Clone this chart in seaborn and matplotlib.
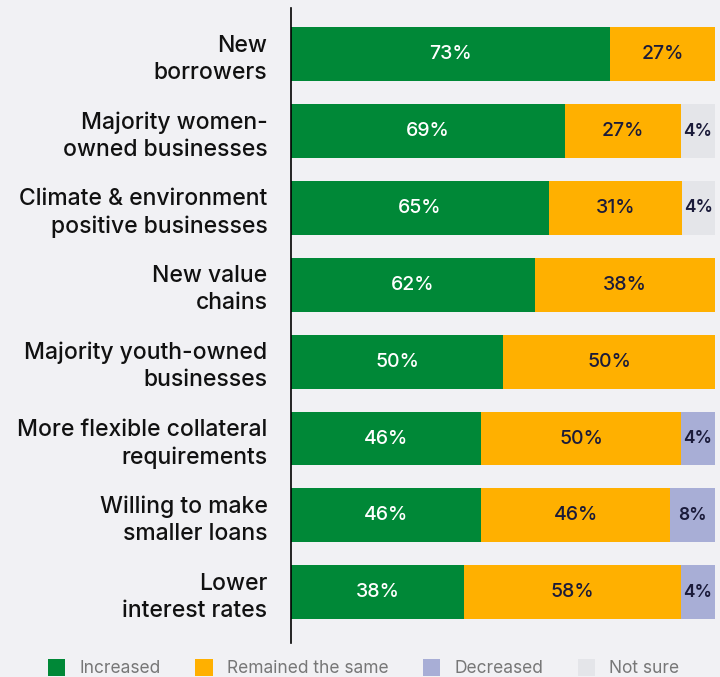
import matplotlib
matplotlib.use("Agg")
import matplotlib.pyplot as plt
from matplotlib.patches import Patch
import seaborn as sns
import pandas as pd

# Categories (top to bottom)
categories = ["New\nborrowers", "Majority women-\nowned businesses",
              "Climate & environment\npositive businesses", "New value\nchains",
              "Majority youth-owned\nbusinesses", "More flexible collateral\nrequirements",
              "Willing to make\nsmaller loans", "Lower\ninterest rates"]

# Bar shares as drawn in the picture (percent of bar length)
increased = [75.2, 64.6, 60.8, 57.5, 50.0, 44.8, 44.8, 40.8]
remained = [24.8, 27.4, 31.4, 42.5, 50.0, 47.2, 44.6, 51.2]
decreased = [0, 0, 0, 0, 0, 8.0, 10.6, 8.0]
not_sure = [0, 8.0, 7.8, 0, 0, 0, 0, 0]

# Printed percentage labels
increased_lbl = [73, 69, 65, 62, 50, 46, 46, 38]
remained_lbl = [27, 27, 31, 38, 50, 50, 46, 58]
decreased_lbl = [0, 0, 0, 0, 0, 4, 8, 4]
not_sure_lbl = [0, 4, 4, 0, 0, 0, 0, 0]

series = ["Increased", "Remained the same", "Decreased", "Not sure"]
colors = ["#008837", "#FFB000", "#A8AED6", "#E4E5E9"]
bg = "#F1F1F4"

df = pd.DataFrame({"cat": categories, "Increased": increased,
                   "Remained the same": remained, "Decreased": decreased,
                   "Not sure": not_sure})
cum = df[series].cumsum(axis=1)

sns.set_style("white")
plt.rcParams["font.family"] = ["Inter", "DejaVu Sans"]

fig = plt.figure(figsize=(7.2, 6.77), dpi=100, facecolor=bg)
ax = fig.add_axes([291 / 720, 1 - 643 / 677, 424 / 720, 635 / 677])
ax.set_facecolor(bg)

# draw cumulative totals from the back to the front
for s, c in reversed(list(zip(series, colors))):
    sns.barplot(x=cum[s], y=df["cat"], orient="h", color=c, saturation=1,
                width=0.7, linewidth=0, ax=ax)

labels = [increased_lbl, remained_lbl, decreased_lbl, not_sure_lbl]
for j, s in enumerate(series):
    for i in range(len(categories)):
        v = df[s][i]
        if v <= 0:
            continue
        x = cum[s][i] - v / 2
        col = "white" if j == 0 else "#1B1B3A"
        ax.text(x, i, f"{labels[j][i]}%", ha="center", va="center",
                color=col, fontsize=14 if j < 2 else 12.5,
                fontweight="medium" if j < 2 else "semibold")

ax.set_xlim(0, 100)
ax.set_ylim(7.66, -0.6)
ax.set_xlabel("")
ax.set_ylabel("")
ax.set_xticks([])
for sp in ["top", "right", "bottom"]:
    ax.spines[sp].set_visible(False)
ax.spines["left"].set_color("black")
ax.spines["left"].set_linewidth(1.2)
ax.tick_params(axis="y", length=0, pad=17, labelsize=16.5, labelcolor="#111111")
for t in ax.get_yticklabels():
    t.set_linespacing(1.3)
    t.set_fontweight("medium")

handles = [Patch(facecolor=c, edgecolor="none") for c in colors]
fig.legend(handles, series, loc="center", bbox_to_anchor=(0.505, 0.013),
           ncol=4, frameon=False, fontsize=12.5, labelcolor="#777777",
           handlelength=1.0, handleheight=1.1, handletextpad=0.8,
           columnspacing=2.0)

fig.savefig("out.png", dpi=100, facecolor=bg)
